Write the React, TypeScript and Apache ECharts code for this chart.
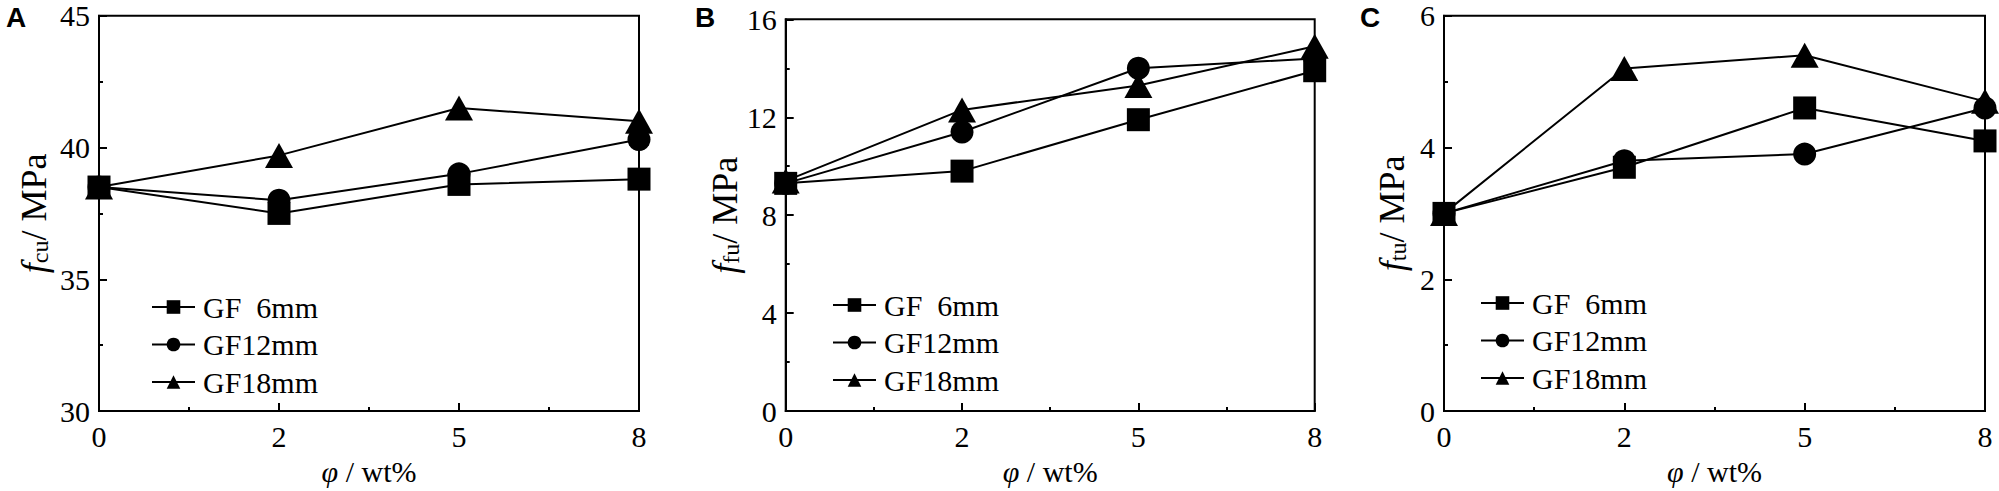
import React, { useEffect, useRef } from "react";
import * as echarts from "echarts";

const categories = ["0", "2", "5", "8"];
const seriesNames = ["GF  6mm", "GF12mm", "GF18mm"];
const seriesSymbols = ["rect", "circle", "triangle"];

const panelA6 = [38.5, 37.5, 38.6, 38.8];
const panelA12 = [38.5, 38.0, 39.0, 40.3];
const panelA18 = [38.5, 39.7, 41.5, 41.0];

const panelB6 = [9.3, 9.8, 11.9, 13.9];
const panelB12 = [9.3, 11.4, 14.0, 14.4];
const panelB18 = [9.4, 12.3, 13.3, 14.9];

const panelC6 = [3.0, 3.7, 4.6, 4.1];
const panelC12 = [3.0, 3.8, 3.9, 4.6];
const panelC18 = [3.0, 5.2, 5.4, 4.7];

const yTicksA = { min: 30, max: 45, interval: 5 };
const yTicksB = { min: 0, max: 16, interval: 4 };
const yTicksC = { min: 0, max: 6, interval: 2 };

const panelLetters = ["A", "B", "C"];
const ySubscripts = ["cu", "fu", "tu"];

const SERIF = "'Liberation Serif', 'Times New Roman', serif";
const SANS = "'Liberation Sans', Arial, sans-serif";
const INK = "#000";

export default function App() {
  const ref = useRef<HTMLDivElement>(null);

  useEffect(() => {
    if (!ref.current) return;
    const chart = echarts.init(ref.current, undefined, { renderer: "svg" });

    const grids = [
      { left: 99, top: 15.7, width: 540, height: 402 },
      { left: 785.7, top: 19.3, width: 529, height: 394.4 },
      { left: 1444, top: 15.7, width: 541, height: 401 },
    ];
    const yTicks = [yTicksA, yTicksB, yTicksC];
    const nameGaps = [47, 37, 34];
    const legendPos = [
      { left: 146, top: 287 },
      { left: 827, top: 285 },
      { left: 1475, top: 283 },
    ];
    const letterPos = [
      [16, 17],
      [705, 17],
      [1370, 17],
    ];
    const panelData = [
      [panelA6, panelA12, panelA18],
      [panelB6, panelB12, panelB18],
      [panelC6, panelC12, panelC18],
    ];
    const symbolSizes: any[] = [23, 23, [28, 25]];

    const tick = { show: true, inside: true, length: 8, lineStyle: { color: INK, width: 2 } };
    const minor = { show: true, splitNumber: 2, length: 4, lineStyle: { color: INK, width: 2 } };
    const axisLine = { show: true, lineStyle: { color: INK, width: 2 } };

    const xAxis = grids.map((_, i) => ({
      type: "value",
      gridIndex: i,
      min: 0,
      max: categories.length - 1,
      interval: 1,
      axisLine,
      axisTick: tick,
      minorTick: minor,
      splitLine: { show: false },
      axisLabel: {
        color: INK,
        fontFamily: SERIF,
        fontSize: 30,
        margin: 10,
        formatter: (v: number) => categories[Math.round(v)] ?? "",
      },
      name: "{i|φ}{n| / wt%}",
      nameLocation: "middle",
      nameGap: 35,
      nameTextStyle: {
        rich: {
          i: { fontFamily: SERIF, fontStyle: "italic", fontSize: 30, color: INK },
          n: { fontFamily: SERIF, fontSize: 30, color: INK },
        },
      },
    }));

    const yAxis = grids.map((_, i) => ({
      type: "value",
      gridIndex: i,
      min: yTicks[i].min,
      max: yTicks[i].max,
      interval: yTicks[i].interval,
      axisLine,
      axisTick: tick,
      minorTick: minor,
      splitLine: { show: false },
      axisLabel: { color: INK, fontFamily: SERIF, fontSize: 30, margin: 9 },
      name: `{i|f}{s|${ySubscripts[i]}}{n|/ MPa}`,
      nameLocation: "middle",
      nameGap: nameGaps[i],
      nameTextStyle: {
        rich: {
          i: { fontFamily: SERIF, fontStyle: "italic", fontSize: 36, lineHeight: 36, verticalAlign: "top", color: INK },
          s: { fontFamily: SERIF, fontSize: 24, lineHeight: 24, padding: [25, 0, 0, 0], verticalAlign: "bottom", color: INK },
          n: { fontFamily: SERIF, fontSize: 36, lineHeight: 36, verticalAlign: "top", color: INK },
        },
      },
    }));

    const series: any[] = [];
    panelData.forEach((group, gi) => {
      group.forEach((vals, si) => {
        series.push({
          type: "line",
          name: seriesNames[si],
          xAxisIndex: gi,
          yAxisIndex: gi,
          data: vals.map((v, k) => [k, v]),
          symbol: seriesSymbols[si],
          symbolSize: symbolSizes[si],
          clip: false,
          itemStyle: { color: INK },
          lineStyle: { color: INK, width: 2 },
        });
      });
    });

    const legend = legendPos.map((p) => ({
      left: p.left,
      top: p.top,
      orient: "vertical",
      data: seriesNames,
      itemWidth: 43,
      itemHeight: 17,
      itemGap: 7.5,
      selectedMode: false,
      textStyle: { color: INK, fontFamily: SERIF, fontSize: 30, lineHeight: 30, padding: [0, 0, 0, 3] },
    }));

    const graphic = panelLetters.map((t, i) => ({
      type: "text",
      x: letterPos[i][0],
      y: letterPos[i][1],
      style: {
        text: t,
        fill: INK,
        font: `bold 28px ${SANS}`,
        textAlign: "center",
        textVerticalAlign: "middle",
      },
    }));

    chart.setOption({
      animation: false,
      backgroundColor: "#fff",
      grid: grids.map((g) => ({ ...g, show: true, borderColor: INK, borderWidth: 2, backgroundColor: "transparent", containLabel: false })),
      xAxis,
      yAxis,
      legend,
      series,
      graphic,
    });

    return () => chart.dispose();
  }, []);

  return (
    <div
      ref={ref}
      style={{ position: "absolute", left: 0, top: 0, width: 1999, height: 491, background: "#fff" }}
    />
  );
}
